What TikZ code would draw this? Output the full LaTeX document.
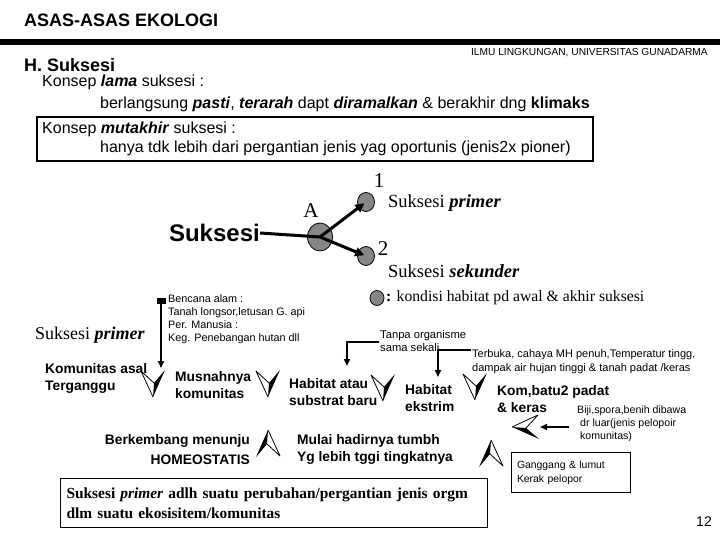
\documentclass[tikz,border=0pt]{standalone}
\usepackage{fontspec}
\setmainfont{Liberation Serif}
\setsansfont{Liberation Sans}
\usetikzlibrary{arrows.meta,shapes.geometric}
\newcommand\fsz[2]{\fontsize{#1}{#2}\selectfont}
\tikzset{
  txt/.style={anchor=west,inner sep=0pt,align=left},
  sansbig/.style={font=\sffamily\fsz{16}{19}},
  lbl/.style={txt,font=\sffamily\bfseries\fsz{13.8}{17}},
  small/.style={txt,font=\sffamily\fsz{10.8}{13}},
  blob/.style={shape=ellipse,draw=black,line width=0.8,fill=gray!95!white,inner sep=0pt},
  conn/.style={line width=1.6,-{Triangle[length=7,width=6]}},
  arr3d/.pic={
    \fill[white] (0,14) -- (-12,-12) -- (1,0) -- cycle;
    \draw[line width=0.8,line join=round] (0,14) -- (-12,-12) -- (1,0);
    \fill[black] (1,0) -- (12,-13) -- (0,14) -- cycle;
  }
}
\begin{document}
\begin{tikzpicture}[x=1pt,y=-1pt]
\useasboundingbox (0,0) rectangle (720,540);
% header
\node[txt,font=\sffamily\bfseries\fsz{18}{20}] (title) at (24,20) {ASAS-ASAS EKOLOGI};
\fill (0,39) rectangle (720,45);
\node[anchor=east,inner sep=0pt,font=\sffamily\fsz{10.2}{12}] (univ) at (708,53) {ILMU LINGKUNGAN, UNIVERSITAS GUNADARMA};
\node[txt,font=\sffamily\bfseries\fsz{18}{20}] (h) at (24,65) {H. Suksesi};
\node[txt,sansbig] (lama) at (42,82) {Konsep \textbf{\textit{lama}} suksesi :};
\node[txt,sansbig] (berl) at (100,104) {berlangsung \textbf{\textit{pasti}}, \textbf{\textit{terarah}} dapt \textbf{\textit{diramalkan}} \& berakhir dng \textbf{klimaks}};
\draw[line width=1.3] (37,117) rectangle (593,161);
\node[txt,sansbig] (mut) at (42,129) {Konsep \textbf{\textit{mutakhir}} suksesi :};
\node[txt,sansbig] (hanya) at (100,148) {hanya tdk lebih dari pergantian jenis yag oportunis (jenis2x pioner)};
% diagram
\node[anchor=east,inner sep=0pt,font=\sffamily\bfseries\fsz{24}{26}] (suk) at (260,233) {Suksesi};
\node[blob,minimum width=25,minimum height=28] (A) at (320,237) {};
\node[blob,minimum width=17,minimum height=19] (c1) at (366,202) {};
\node[blob,minimum width=17,minimum height=19] (c2) at (366,256) {};
\draw[line width=3] (suk.east) -- (A.center);
\draw[line width=3,-{Triangle[length=9,width=9]},shorten >=2] (A.center) -- (c1.center);
\draw[line width=3,-{Triangle[length=9,width=9]},shorten >=2] (A.center) -- (c2.center);
\node[inner sep=0pt,font=\fsz{21}{22}] (n1) at (379,181) {1};
\node[inner sep=0pt,font=\fsz{21}{22}] (nA) at (311,211) {A};
\node[inner sep=0pt,font=\fsz{21}{22}] (n2) at (383,249) {2};
\node[txt,font=\fsz{18.5}{20}] (sp) at (388,203) {Suksesi \textbf{\textit{primer}}};
\node[txt,font=\fsz{18.5}{20}] (ss) at (388,271) {Suksesi \textbf{\textit{sekunder}}};
\node[blob,minimum width=14,minimum height=15] (leg) at (377,298) {};
\node[txt,font=\fsz{15.7}{18}] (legt) at (386,298) {\textbf{:} kondisi habitat pd awal \& akhir suksesi};
% lower part
\node[txt,font=\fsz{18}{20}] (sp2) at (35,335) {Suksesi \textbf{\textit{primer}}};
\fill (157,298) rectangle (166,304);
\node[small,anchor=north west] (benc) at (168,294) {Bencana alam :\\Tanah longsor,letusan G. api\\Per. Manusia :\\Keg. Penebangan hutan dll};
\coordinate (b0) at (161,301);
\coordinate (b1) at (161,368);
\draw[conn] (b0) -- (b1);
\node[lbl] (kom) at (45,378) {Komunitas asal\\Terganggu};
\node[lbl] (mus) at (175,385) {Musnahnya\\komunitas};
\node[lbl] (hab) at (289,392) {Habitat atau\\substrat baru};
\node[lbl] (eks) at (405,398) {Habitat\\ekstrim};
\node[lbl] (kb) at (497,399) {Kom,batu2 padat\\\& keras};
\node[lbl] (mul) at (297,449) {Mulai hadirnya tumbh\\Yg lebih tggi tingkatnya};
\node[anchor=east,inner sep=0pt,align=right,font=\sffamily\bfseries\fsz{13.8}{20}] (berk) at (250,450) {Berkembang menunju\\HOMEOSTATIS};
\node[small,font=\sffamily\fsz{11.2}{12.5}] (tanpa) at (380,341) {Tanpa organisme\\sama sekali};
\coordinate (t0) at (379,342);
\coordinate (t1) at (347,366);
\draw[conn] (t0) -| (t1);
\node[small,font=\sffamily\fsz{11}{14}] (terb) at (472,362) {Terbuka, cahaya MH penuh,Temperatur tingg,\\dampak air hujan tinggi \& tanah padat /keras};
\coordinate (u0) at (471,350);
\coordinate (u1) at (438,377);
\draw[conn] (u0) -| (u1);
\node[small,anchor=north west,font=\sffamily\fsz{10.6}{13}] (biji) at (577,406) {Biji,spora,benih dibawa\\\ dr luar(jenis pelopoir\\\ komunitas)};
\coordinate (v0) at (569,427);
\coordinate (v1) at (540,427);
\draw[line width=2,-{Triangle[length=7,width=6]}] (v0) -- (v1);
\node[draw,line width=1,anchor=north west,minimum width=119,minimum height=40,text width=108,align=left,inner xsep=5,font=\sffamily\fsz{10.4}{14}] (gang) at (511,452) {Ganggang \& lumut\\Kerak pelopor};
\node[draw,line width=1,anchor=north west,minimum width=427,minimum height=49,text width=415,align=left,inner xsep=6,font=\bfseries\fsz{15.4}{20}] (def) at (60,478) {Suksesi \textit{primer} adlh suatu perubahan/pergantian jenis orgm\\dlm suatu ekosisitem/komunitas};
\node[anchor=east,inner sep=0pt,font=\sffamily\fsz{14}{16}] (pg) at (712,522) {12};
% 3D arrows
\pic at (153,383) {arr3d};
\pic at (268,383) {arr3d};
\pic at (383,387) {arr3d};
\pic at (475,386) {arr3d};
\pic[rotate=-90] at (526,427) {arr3d};
\pic[rotate=180] at (491,454) {arr3d};
\pic[rotate=180] at (268,444) {arr3d};
\end{tikzpicture}
\end{document}
